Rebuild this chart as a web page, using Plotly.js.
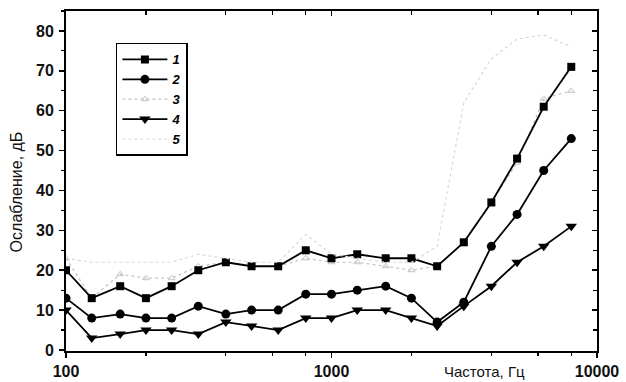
<!DOCTYPE html>
<html>
<head>
<meta charset="utf-8">
<script src="https://cdn.plot.ly/plotly-3.0.1.min.js"></script>
<style>html,body{margin:0;padding:0;background:#fff;}#chart{width:626px;height:382px;}</style>
</head>
<body>
<div id="chart"></div>
<script>
const freqs = [100,125,160,200,250,315,400,500,630,800,1000,1250,1600,2000,2500,3150,4000,5000,6300,8000];
const series1 = [20,13,16,13,16,20,22,21,21,25,23,24,23,23,21,27,37,48,61,71];
const series2 = [13,8,9,8,8,11,9,10,10,14,14,15,16,13,7,12,26,34,45,53];
const series3 = [23,13,19,18,18,21,22,21,21,23,22,22,21,20,21,27,37,47,63,65];
const series4 = [10,3,4,5,5,4,7,6,5,8,8,10,10,8,6,11,16,22,26,31];
const series5 = [23,22,22,22,22,24,23,22,22,29,24,23,22,22,26,62,73,78,79,76];
const seriesNames = ['1','2','3','4','5'];
const xTickVals = [100,1000,10000];
const xTickText = ['100','1000','10000'];
const xMinorVals = [200,400,600,800,2000,4000,6000,8000];
const yTickVals = [0,10,20,30,40,50,60,70,80];

const lbl = n => '<b><i>' + n + '</i></b>';
const traces = [
  {x:freqs,y:series3,name:lbl(seriesNames[2]),legendrank:3,mode:'lines+markers',
   line:{color:'#c4c4c4',width:1.2,dash:'dot'},
   marker:{symbol:'triangle-up-open',size:6,color:'#c4c4c4',line:{width:1}}},
  {x:freqs,y:series1,name:lbl(seriesNames[0]),legendrank:1,mode:'lines+markers',
   line:{color:'#000',width:1.8},marker:{symbol:'square',size:8,color:'#000'}},
  {x:freqs,y:series2,name:lbl(seriesNames[1]),legendrank:2,mode:'lines+markers',
   line:{color:'#000',width:1.8},marker:{symbol:'circle',size:9,color:'#000'}},
  {x:freqs,y:series4,name:lbl(seriesNames[3]),legendrank:4,mode:'lines+markers',
   line:{color:'#000',width:1.8},marker:{symbol:'triangle-down',size:10,color:'#000'}},
  {x:freqs,y:series5,name:lbl(seriesNames[4]),legendrank:5,mode:'lines',xaxis:'x2',yaxis:'y2',
   line:{color:'#d8d8d8',width:1.2,dash:'dot'}}
];

const FAM = 'Liberation Sans, Arial, sans-serif';
const tickFont = {family:FAM,size:16,color:'#111',weight:'bold'};
const layout = {
  width:626,height:382,
  margin:{l:66,r:29,t:11,b:31},
  paper_bgcolor:'#fff',plot_bgcolor:'#fff',
  showlegend:true,
  legend:{x:0.094,y:0.906,xanchor:'left',yanchor:'top',bordercolor:'#000',borderwidth:1.5,
    bgcolor:'#fff',font:{family:FAM,size:13,color:'#000'},
    traceorder:'normal',itemwidth:45,tracegroupgap:0},
  xaxis:{type:'log',range:[2,4],tickmode:'array',tickvals:xTickVals,ticktext:xTickText,
    ticks:'outside',ticklen:5,tickwidth:1.5,tickcolor:'#000',
    showline:true,linecolor:'#000',linewidth:2,showgrid:false,zeroline:false,
    tickfont:tickFont,
    minor:{tickmode:'array',tickvals:xMinorVals,ticks:'outside',ticklen:3,tickwidth:1.2,tickcolor:'#000',showgrid:false}},
  yaxis:{range:[-0.25,85],tickmode:'array',tickvals:yTickVals,
    ticks:'outside',ticklen:5,tickwidth:1.5,tickcolor:'#000',ticklabelstandoff:2,
    showline:true,linecolor:'#000',linewidth:2,showgrid:false,zeroline:false,
    tickfont:tickFont,
    minor:{dtick:5,tick0:0,ticks:'outside',ticklen:3,tickwidth:1.2,tickcolor:'#000',showgrid:false}},
  xaxis2:{type:'log',range:[2,4],overlaying:'x',side:'top',anchor:'y2',tickmode:'array',tickvals:xTickVals,
    ticks:'inside',ticklen:5,tickwidth:1.5,tickcolor:'#000',showticklabels:false,
    showline:true,linecolor:'#000',linewidth:2,showgrid:false,zeroline:false,
    minor:{tickmode:'array',tickvals:xMinorVals,ticks:'inside',ticklen:4,tickwidth:1.2,tickcolor:'#000',showgrid:false}},
  yaxis2:{range:[-0.25,85],overlaying:'y',side:'right',anchor:'x2',tickmode:'array',tickvals:yTickVals,
    ticks:'inside',ticklen:5,tickwidth:1.5,tickcolor:'#000',showticklabels:false,
    showline:true,linecolor:'#000',linewidth:2,showgrid:false,zeroline:false,
    minor:{dtick:5,tick0:0,ticks:'inside',ticklen:4,tickwidth:1.2,tickcolor:'#000',showgrid:false}},
  annotations:[
    {text:'Частота, Гц',xref:'paper',yref:'paper',x:0.789,y:-0.091,xanchor:'center',yanchor:'bottom',
     showarrow:false,font:{family:FAM,size:15,color:'#111'}},
    {text:'Ослабление, дБ',xref:'paper',yref:'paper',x:-0.0932,y:0.468,xanchor:'center',yanchor:'middle',
     textangle:-90,showarrow:false,font:{family:FAM,size:16,color:'#111'}}
  ]
};
Plotly.newPlot('chart',traces,layout,{displayModeBar:false,staticPlot:true});
</script>
</body>
</html>
